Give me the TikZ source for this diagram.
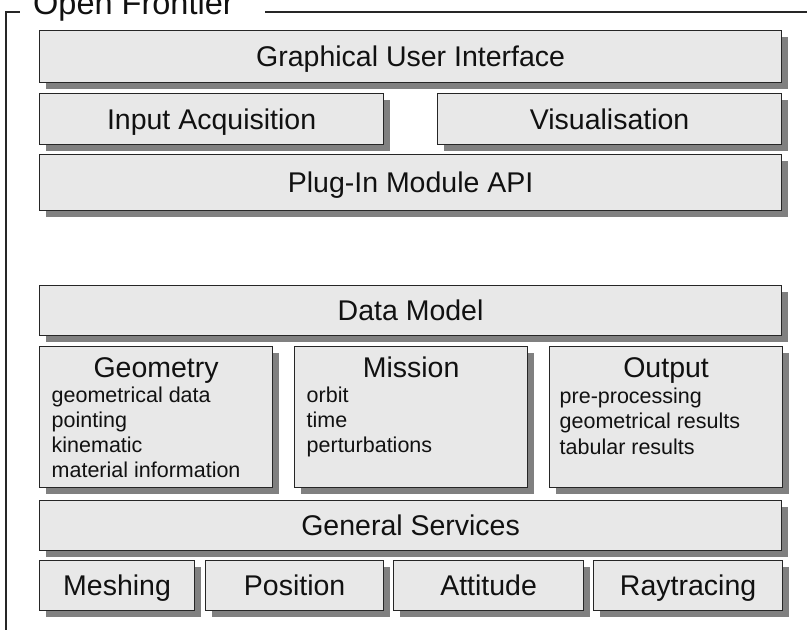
\documentclass[tikz,border=0pt]{standalone}
\usepackage{fontspec}
\setmainfont{Liberation Sans}
\usetikzlibrary{shadows}

\definecolor{boxfill}{HTML}{E8E8E8}
\definecolor{boxline}{HTML}{262626}
\definecolor{shadowgray}{HTML}{808080}
\definecolor{textdark}{HTML}{111111}

\tikzset{
	layer/.style={draw=boxline, line width=1.2pt, fill=boxfill, anchor=north west,
		inner sep=0pt, text=textdark,
		font=\fontsize{28.5}{32}\selectfont, text height=20.4pt, text depth=0pt,
		drop shadow={shadow xshift=6pt, shadow yshift=-6pt, fill=shadowgray, opacity=1}},
	heading/.style={inner sep=0pt, text=textdark, font=\fontsize{28.5}{32}\selectfont},
	entry/.style={inner sep=0pt, text=textdark, font=\fontsize{21.5}{25}\selectfont},
	frameline/.style={draw=boxline, line width=1.2pt},
}

\begin{document}
\begin{tikzpicture}[x=1pt, y=-1pt]
	\clip (0,0) rectangle (807,630);

	% outer frame with its title
	\coordinate (frameBL) at (6,640);
	\coordinate (frameTL) at (6,12);
	\coordinate (frameTick) at (20,12);
	\coordinate (frameLineStart) at (265,12);
	\coordinate (frameTR) at (815,12);
	\node[inner sep=0pt, text=textdark, font=\fontsize{32.5}{36}\selectfont, anchor=base west] (frameTitle) at (33,14.5) {Open Frontier};
	\draw[frameline] (frameBL) -- (frameTL) -- (frameTick);
	\draw[frameline] (frameLineStart) -- (frameTR);

	% front end
	\node[layer, minimum width=742pt, minimum height=52pt] (gui) at (39,30) {Graphical User Interface};
	\node[layer, minimum width=344pt, minimum height=51pt] (input) at (39,93) {Input Acquisition};
	\node[layer, minimum width=344pt, minimum height=51pt] (vis) at (437,93) {Visualisation};
	\node[layer, minimum width=742pt, minimum height=56pt] (plugin) at (39,154) {Plug-In Module API};

	% data model
	\node[layer, minimum width=742pt, minimum height=50pt] (model) at (39,285) {Data Model};

	\node[layer, minimum width=233pt, minimum height=141pt] (geometry) at (39,346) {};
	\node[heading, anchor=base] (geometryTitle) at ([yshift=-31.5pt]geometry.north) {Geometry};
	\foreach \entryText [count=\i] in {geometrical data, pointing, kinematic, material information}
		\node[entry, anchor=base west] (geometryEntry\i) at ([xshift=12.5pt, yshift={-31.5pt-\i*25pt}]geometry.north west) {\entryText};

	\node[layer, minimum width=233pt, minimum height=141pt] (mission) at (294,346) {};
	\node[heading, anchor=base] (missionTitle) at ([yshift=-31.5pt]mission.north) {Mission};
	\foreach \entryText [count=\i] in {orbit, time, perturbations}
		\node[entry, anchor=base west] (missionEntry\i) at ([xshift=12.5pt, yshift={-31.5pt-\i*25pt}]mission.north west) {\entryText};

	\node[layer, minimum width=233pt, minimum height=141pt] (output) at (549,346) {};
	\node[heading, anchor=base] (outputTitle) at ([yshift=-31.5pt]output.north) {Output};
	\foreach \entryText [count=\i] in {pre-processing, geometrical results, tabular results}
		\node[entry, anchor=base west] (outputEntry\i) at ([xshift=10.5pt, yshift={-31.5pt-\i*25.5pt}]output.north west) {\entryText};

	% services
	\node[layer, minimum width=742pt, minimum height=50pt] (services) at (39,500) {General Services};
	\node[layer, minimum width=155pt, minimum height=50pt] (meshing) at (39,560) {Meshing};
	\node[layer, minimum width=178pt, minimum height=50pt] (position) at (205,560) {Position};
	\node[layer, minimum width=190pt, minimum height=50pt] (attitude) at (393,560) {Attitude};
	\node[layer, minimum width=189pt, minimum height=50pt] (raytracing) at (593,560) {Raytracing};
\end{tikzpicture}
\end{document}
